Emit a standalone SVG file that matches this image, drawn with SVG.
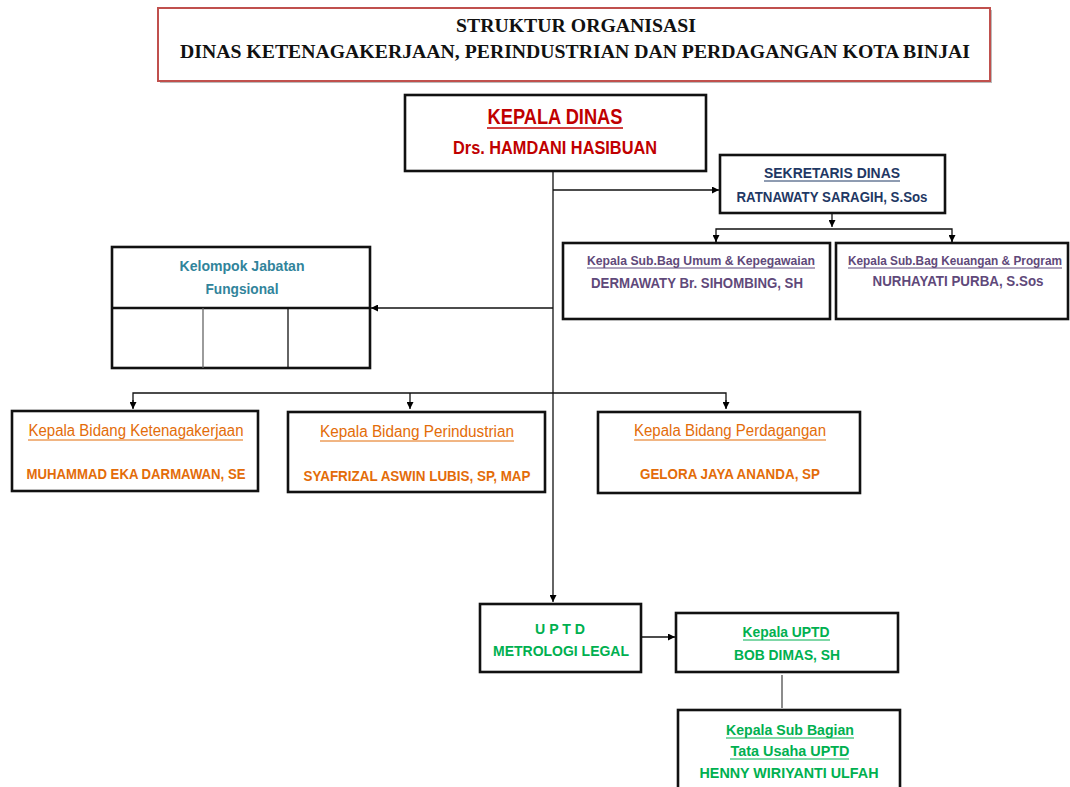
<svg xmlns="http://www.w3.org/2000/svg" width="1070" height="787" viewBox="0 0 1070 787">
<defs>
<marker id="arr" viewBox="0 0 10 10" refX="10" refY="5" markerWidth="7" markerHeight="7" markerUnits="userSpaceOnUse" orient="auto">
<path d="M0,0 L10,5 L0,10 z" fill="#000"/>
</marker>
</defs>
<style>
.box{fill:#fff;stroke:#111;stroke-width:2.6}
.sh{fill:#bbb}
.ln{stroke:#111;stroke-width:1.3;fill:none}
.t{font-family:"Liberation Sans Narrow","Liberation Sans",Arial,sans-serif;font-weight:bold;text-anchor:middle}
.n{font-weight:normal}
.ttl{font-family:"Liberation Serif","Times New Roman",serif;font-weight:bold;font-size:18px;text-anchor:middle;fill:#111}
.red{fill:#c00000}.blue{fill:#1f3864}.pur{fill:#5f497a}.teal{fill:#31849b}.org{fill:#e36c09}.grn{fill:#00b050}
</style>
<rect x="0" y="0" width="1070" height="787" fill="#fff"/>

<g id="title">
<rect x="160" y="10" width="832" height="73" class="sh"/>
<rect x="158" y="8" width="832" height="73" fill="#fff" stroke="#c0504d" stroke-width="2"/>
<text x="576" y="32" class="ttl" textLength="240" lengthAdjust="spacingAndGlyphs">STRUKTUR ORGANISASI</text>
<text x="575" y="58" class="ttl" textLength="790" lengthAdjust="spacingAndGlyphs">DINAS KETENAGAKERJAAN, PERINDUSTRIAN DAN PERDAGANGAN KOTA BINJAI</text>
</g>

<g id="connectors">
<line x1="553" y1="172" x2="553" y2="602" class="ln" marker-end="url(#arr)"/>
<line x1="553" y1="190" x2="719" y2="190" class="ln" marker-end="url(#arr)"/>
<line x1="832" y1="214" x2="832" y2="227" class="ln" marker-end="url(#arr)"/>
<polyline points="716,242 716,229 952,229 952,242" class="ln"/>
<line x1="716" y1="236" x2="716" y2="242" class="ln" marker-end="url(#arr)"/>
<line x1="952" y1="236" x2="952" y2="242" class="ln" marker-end="url(#arr)"/>
<line x1="553" y1="308" x2="371" y2="308" class="ln" marker-end="url(#arr)"/>
<polyline points="133,408 133,393 726,393 726,408" class="ln"/>
<line x1="133" y1="400" x2="133" y2="409" class="ln" marker-end="url(#arr)"/>
<line x1="410" y1="393" x2="410" y2="409" class="ln" marker-end="url(#arr)"/>
<line x1="726" y1="400" x2="726" y2="409" class="ln" marker-end="url(#arr)"/>
<line x1="642" y1="637" x2="675" y2="637" class="ln" marker-end="url(#arr)"/>
<line x1="782" y1="675" x2="782" y2="708" stroke="#666" stroke-width="1.5"/>
</g>

<g id="kepala-dinas">
<rect x="405" y="95" width="301" height="76" class="box"/>
<text x="555" y="124" class="t red" font-size="22" textLength="135" lengthAdjust="spacingAndGlyphs">KEPALA DINAS</text>
<line x1="487" y1="128" x2="623" y2="128" stroke="#c00000" stroke-width="1.3"/>
<text x="555" y="154" class="t red" font-size="18" textLength="204" lengthAdjust="spacingAndGlyphs">Drs. HAMDANI HASIBUAN</text>
</g>

<g id="sekretaris">
<rect x="720" y="155" width="225" height="58" class="box"/>
<text x="832" y="178" class="t blue" font-size="15" textLength="136" lengthAdjust="spacingAndGlyphs">SEKRETARIS DINAS</text>
<line x1="764" y1="181" x2="900" y2="181" stroke="#1f3864" stroke-width="1"/>
<text x="832" y="202" class="t blue" font-size="14" textLength="191" lengthAdjust="spacingAndGlyphs">RATNAWATY SARAGIH, S.Sos</text>
</g>

<g id="subbag-umum">
<rect x="563" y="243" width="267" height="76" class="box"/>
<text x="701" y="265" class="t pur" font-size="12.5" textLength="228" lengthAdjust="spacingAndGlyphs">Kepala Sub.Bag Umum &amp; Kepegawaian</text>
<line x1="587" y1="268" x2="815" y2="268" stroke="#5f497a" stroke-width="1"/>
<text x="697" y="288" class="t pur" font-size="14" textLength="212" lengthAdjust="spacingAndGlyphs">DERMAWATY Br. SIHOMBING, SH</text>
</g>

<g id="subbag-keuangan">
<rect x="836" y="243" width="232" height="76" class="box"/>
<text x="955" y="265" class="t pur" font-size="12" textLength="214" lengthAdjust="spacingAndGlyphs">Kepala Sub.Bag Keuangan &amp; Program</text>
<line x1="848" y1="268" x2="1062" y2="268" stroke="#5f497a" stroke-width="1"/>
<text x="958" y="286" class="t pur" font-size="14" textLength="171" lengthAdjust="spacingAndGlyphs">NURHAYATI PURBA, S.Sos</text>
</g>

<g id="kelompok-jabatan-fungsional">
<rect x="112" y="247" width="258" height="121" class="box"/>
<line x1="112" y1="308" x2="370" y2="308" stroke="#111" stroke-width="2.6"/>
<line x1="203" y1="308" x2="203" y2="368" stroke="#666" stroke-width="1.3"/>
<line x1="288" y1="308" x2="288" y2="368" stroke="#111" stroke-width="1.3"/>
<text x="242" y="271" class="t teal" font-size="15" textLength="125" lengthAdjust="spacingAndGlyphs">Kelompok Jabatan</text>
<text x="242" y="294" class="t teal" font-size="15" textLength="73" lengthAdjust="spacingAndGlyphs">Fungsional</text>
</g>

<g id="bidang-ketenagakerjaan">
<rect x="12" y="411" width="246" height="80" class="box"/>
<text x="136" y="436" class="t n org" font-size="16" textLength="215" lengthAdjust="spacingAndGlyphs">Kepala Bidang Ketenagakerjaan</text>
<line x1="28" y1="440" x2="243" y2="440" stroke="#e36c09" stroke-width="1"/>
<text x="136" y="479" class="t org" font-size="14" textLength="219" lengthAdjust="spacingAndGlyphs">MUHAMMAD EKA DARMAWAN, SE</text>
</g>

<g id="bidang-perindustrian">
<rect x="288" y="412" width="257" height="80" class="box"/>
<text x="417" y="437" class="t n org" font-size="16" textLength="194" lengthAdjust="spacingAndGlyphs">Kepala Bidang Perindustrian</text>
<line x1="320" y1="441" x2="514" y2="441" stroke="#e36c09" stroke-width="1"/>
<text x="417" y="481" class="t org" font-size="14" textLength="227" lengthAdjust="spacingAndGlyphs">SYAFRIZAL ASWIN LUBIS, SP, MAP</text>
</g>

<g id="bidang-perdagangan">
<rect x="598" y="412" width="262" height="81" class="box"/>
<text x="730" y="436" class="t n org" font-size="16" textLength="192" lengthAdjust="spacingAndGlyphs">Kepala Bidang Perdagangan</text>
<line x1="634" y1="440" x2="826" y2="440" stroke="#e36c09" stroke-width="1"/>
<text x="730" y="479" class="t org" font-size="14" textLength="180" lengthAdjust="spacingAndGlyphs">GELORA JAYA ANANDA, SP</text>
</g>

<g id="uptd">
<rect x="480" y="604" width="161" height="68" class="box"/>
<text x="560" y="634" class="t grn" font-size="15" textLength="50" lengthAdjust="spacingAndGlyphs">U P T D</text>
<text x="561" y="656" class="t grn" font-size="15" textLength="136" lengthAdjust="spacingAndGlyphs">METROLOGI LEGAL</text>
</g>

<g id="kepala-uptd">
<rect x="676" y="613" width="222" height="59" class="box"/>
<text x="786" y="637" class="t grn" font-size="15" textLength="87" lengthAdjust="spacingAndGlyphs">Kepala UPTD</text>
<line x1="743" y1="640" x2="830" y2="640" stroke="#00b050" stroke-width="1"/>
<text x="787" y="660" class="t grn" font-size="15" textLength="106" lengthAdjust="spacingAndGlyphs">BOB DIMAS, SH</text>
</g>

<g id="kasubbag-tu-uptd">
<rect x="678" y="710" width="222" height="90" class="box"/>
<text x="790" y="735" class="t grn" font-size="15" textLength="128" lengthAdjust="spacingAndGlyphs">Kepala Sub Bagian</text>
<line x1="726" y1="738" x2="854" y2="738" stroke="#00b050" stroke-width="1"/>
<text x="790" y="756" class="t grn" font-size="15" textLength="119" lengthAdjust="spacingAndGlyphs">Tata Usaha UPTD</text>
<line x1="730" y1="759" x2="849" y2="759" stroke="#00b050" stroke-width="1"/>
<text x="789" y="778" class="t grn" font-size="15" textLength="179" lengthAdjust="spacingAndGlyphs">HENNY WIRIYANTI ULFAH</text>
</g>
</svg>
